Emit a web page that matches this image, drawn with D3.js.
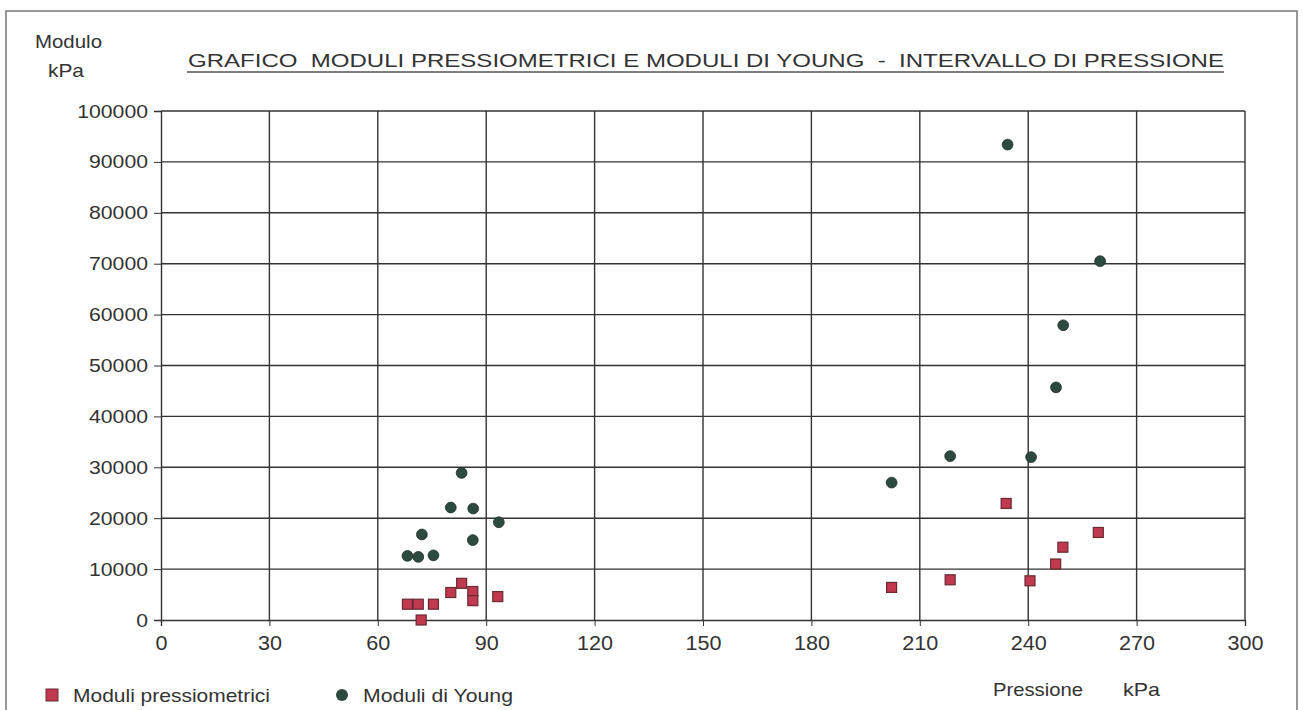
<!DOCTYPE html>
<html><head><meta charset="utf-8">
<script src="https://cdn.jsdelivr.net/npm/d3@7"></script>
<style>body{margin:0;background:#fff}svg{display:block}text{font-family:"Liberation Sans",Arial,sans-serif;fill:#333}</style>
</head><body>
<script>
const xTicks = [0,30,60,90,120,150,180,210,240,270,300];
const yTicks = [0,10000,20000,30000,40000,50000,60000,70000,80000,90000,100000];
const pressioneX = [68.2,71.2,72,75.4,80.2,83.2,86.3,86.3,93.2,202.2,218.4,233.9,240.5,247.6,249.6,259.4];
const pressiometrici = [3100,3100,0,3100,5400,7200,5600,3800,4600,6400,7900,22900,7700,11000,14300,17200];
const youngX = [68.2,71.2,72.2,75.4,80.2,83.2,86.4,86.3,93.5,202.2,218.4,234.3,240.8,247.7,249.7,259.9];
const young = [12600,12400,16800,12700,22100,28900,21900,15700,19200,27000,32200,93400,32000,45700,57900,70500];
const titleText = "GRAFICO  MODULI PRESSIOMETRICI E MODULI DI YOUNG  -  INTERVALLO DI PRESSIONE";

const W=1303,H=710;
const FONT="Liberation Sans, Arial, sans-serif";
const svg=d3.select("body").append("svg").attr("width",W).attr("height",H);
svg.append("rect").attr("x",6).attr("y",11).attr("width",1291).attr("height",705)
  .attr("fill","none").attr("stroke","#777").attr("stroke-width",1.5);

const x=d3.scaleLinear().domain([0,300]).range([161,1245]);
const y=d3.scaleLinear().domain([0,100000]).range([620,111]);

// grid
const g=svg.append("g");
g.selectAll("line.v").data(xTicks.slice(1)).join("line")
  .attr("x1",d=>x(d)).attr("x2",d=>x(d)).attr("y1",y(100000)).attr("y2",y(0))
  .attr("stroke","#333").attr("stroke-width",1.4);
g.selectAll("line.h").data(yTicks.slice(1)).join("line")
  .attr("x1",x(0)).attr("x2",x(300)).attr("y1",d=>y(d)).attr("y2",d=>y(d))
  .attr("stroke","#333").attr("stroke-width",1.4);

const yAxis=svg.append("g").attr("transform",`translate(${x(0)},0)`)
  .call(d3.axisLeft(y).tickValues(yTicks).tickFormat(d3.format("d")).tickSize(7).tickPadding(6));
yAxis.attr("font-size",null).attr("font-family",null);
yAxis.select(".domain").attr("stroke","#333").attr("stroke-width",1.4);
yAxis.selectAll(".tick line").attr("stroke","#333");
yAxis.selectAll("text").attr("font-size",19).attr("fill","#333").attr("font-family",FONT)
  .attr("textLength",function(){return this.textContent.length*11.8;}).attr("lengthAdjust","spacingAndGlyphs");

const xAxis=svg.append("g").attr("transform",`translate(0,${y(0)})`)
  .call(d3.axisBottom(x).tickValues(xTicks).tickSize(6).tickPadding(10));
xAxis.attr("font-size",null).attr("font-family",null);
xAxis.select(".domain").attr("stroke","#333").attr("stroke-width",1.4);
xAxis.selectAll(".tick line").attr("stroke","#333");
xAxis.selectAll("text").attr("font-size",20).attr("fill","#333").attr("font-family",FONT)
  .attr("textLength",function(){return this.textContent.length*12;}).attr("lengthAdjust","spacingAndGlyphs");

// points
const sq=10;
svg.append("g").selectAll("rect").data(pressioneX.map((d,i)=>[d,pressiometrici[i]])).join("rect")
  .attr("x",d=>x(d[0])-sq/2).attr("y",d=>y(d[1])-sq/2).attr("width",sq).attr("height",sq)
  .attr("fill","#c0394e").attr("stroke","#6a2a33").attr("stroke-width",1.2);
svg.append("g").selectAll("circle").data(youngX.map((d,i)=>[d,young[i]])).join("circle")
  .attr("cx",d=>x(d[0])).attr("cy",d=>y(d[1])).attr("r",5.4)
  .attr("fill","#2d4a3e").attr("stroke","#1f3028").attr("stroke-width",0.8);

// texts
svg.append("text").attr("x",35).attr("y",48).attr("font-size",19)
  .attr("textLength",67).attr("lengthAdjust","spacingAndGlyphs").text("Modulo");
svg.append("text").attr("x",48).attr("y",77).attr("font-size",19)
  .attr("textLength",36).attr("lengthAdjust","spacingAndGlyphs").text("kPa");
svg.append("text").attr("x",706).attr("y",67).attr("text-anchor","middle").attr("font-size",19)
  .attr("textLength",1036).attr("lengthAdjust","spacingAndGlyphs").attr("fill","#444")
  .attr("xml:space","preserve").text(titleText);
svg.append("line").attr("x1",187).attr("x2",1224).attr("y1",72).attr("y2",72).attr("stroke","#555").attr("stroke-width",1.6);

svg.append("text").attr("x",993).attr("y",696).attr("font-size",19)
  .attr("textLength",90).attr("lengthAdjust","spacingAndGlyphs").text("Pressione");
svg.append("text").attr("x",1123).attr("y",696).attr("font-size",19)
  .attr("textLength",37).attr("lengthAdjust","spacingAndGlyphs").text("kPa");

// legend
svg.append("rect").attr("x",46).attr("y",689).attr("width",12).attr("height",12)
  .attr("fill","#c0394e").attr("stroke","#6a2a33");
svg.append("text").attr("x",73).attr("y",702).attr("font-size",19)
  .attr("textLength",197).attr("lengthAdjust","spacingAndGlyphs").text("Moduli pressiometrici");
svg.append("circle").attr("cx",342).attr("cy",695).attr("r",6).attr("fill","#2d4a3e");
svg.append("text").attr("x",363).attr("y",702).attr("font-size",19)
  .attr("textLength",150).attr("lengthAdjust","spacingAndGlyphs").text("Moduli di Young");
</script>
</body></html>
